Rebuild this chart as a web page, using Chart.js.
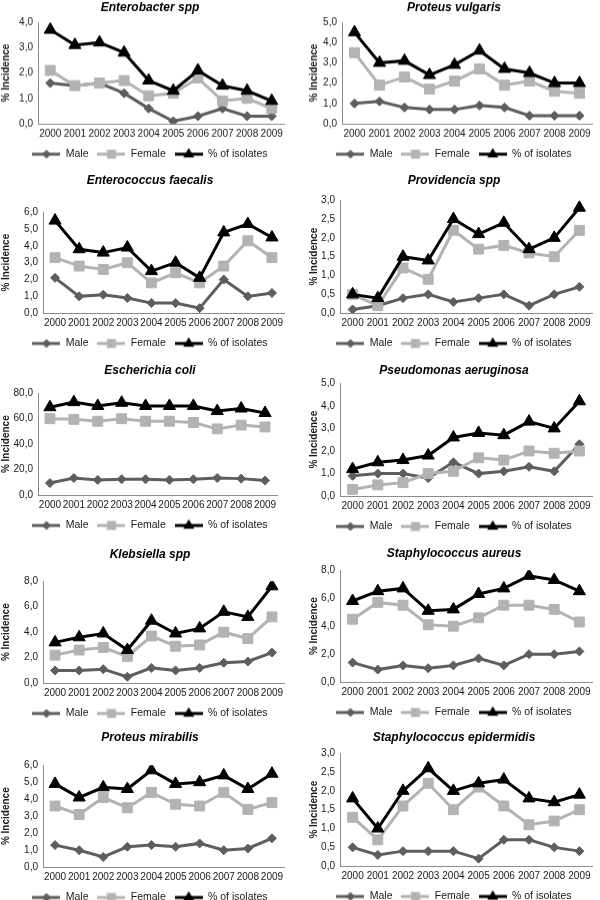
<!DOCTYPE html>
<html>
<head>
<meta charset="utf-8">
<script src="https://cdn.jsdelivr.net/npm/chart.js@4"></script>
<style>
  html, body { margin: 0; padding: 0; background: #fff; overflow: hidden; }
  #wrap { position: relative; width: 600px; height: 900px; }
  .panel { position: absolute; }
</style>
</head>
<body>
<div id="wrap"></div>
<script>
// x axis years
const years = ['2000', '2001', '2002', '2003', '2004', '2005', '2006', '2007', '2008', '2009'];
const seriesNames = ['Male', 'Female', '% of isolates'];

// values (% incidence)
const enterobacterMale     = [1.6, 1.5, 1.6, 1.2, 0.6, 0.1, 0.3, 0.6, 0.3, 0.3];
const enterobacterFemale   = [2.1, 1.5, 1.6, 1.7, 1.1, 1.2, 1.8, 0.9, 1.0, 0.6];
const enterobacterIsolates = [3.7, 3.1, 3.2, 2.8, 1.7, 1.3, 2.1, 1.5, 1.3, 0.9];

const vulgarisMale     = [1.0, 1.1, 0.8, 0.7, 0.7, 0.9, 0.8, 0.4, 0.4, 0.4];
const vulgarisFemale   = [3.5, 1.9, 2.3, 1.7, 2.1, 2.7, 1.9, 2.1, 1.6, 1.5];
const vulgarisIsolates = [4.5, 3.0, 3.1, 2.4, 2.9, 3.6, 2.7, 2.5, 2.0, 2.0];

const faecalisMale     = [2.1, 1.0, 1.1, 0.9, 0.6, 0.6, 0.3, 2.0, 1.0, 1.2];
const faecalisFemale   = [3.3, 2.8, 2.6, 3.0, 1.8, 2.4, 1.8, 2.8, 4.3, 3.3];
const faecalisIsolates = [5.5, 3.8, 3.6, 3.9, 2.5, 3.0, 2.1, 4.8, 5.3, 4.5];

const providenciaMale     = [0.1, 0.2, 0.4, 0.5, 0.3, 0.4, 0.5, 0.2, 0.5, 0.7];
const providenciaFemale   = [0.5, 0.2, 1.2, 0.9, 2.2, 1.7, 1.8, 1.6, 1.5, 2.2];
const providenciaIsolates = [0.5, 0.4, 1.5, 1.4, 2.5, 2.1, 2.4, 1.7, 2.0, 2.8];

const coliMale     = [9.5, 13.5, 12.0, 12.5, 12.5, 12.0, 12.5, 13.5, 13.0, 11.5];
const coliFemale   = [60.0, 59.5, 58.0, 60.0, 58.0, 58.0, 57.0, 52.0, 55.0, 53.5];
const coliIsolates = [69.0, 73.0, 70.0, 72.5, 70.0, 70.0, 70.0, 66.0, 68.0, 64.5];

const pseudomonasMale     = [0.9, 1.0, 1.0, 0.8, 1.5, 1.0, 1.1, 1.3, 1.1, 2.3];
const pseudomonasFemale   = [0.3, 0.5, 0.6, 1.0, 1.1, 1.7, 1.6, 2.0, 1.9, 2.0];
const pseudomonasIsolates = [1.2, 1.5, 1.6, 1.8, 2.6, 2.8, 2.7, 3.3, 3.0, 4.2];

const klebsiellaMale     = [1.0, 1.0, 1.1, 0.5, 1.2, 1.0, 1.2, 1.6, 1.7, 2.4];
const klebsiellaFemale   = [2.2, 2.6, 2.8, 2.1, 3.7, 2.9, 3.0, 4.0, 3.5, 5.2];
const klebsiellaIsolates = [3.2, 3.6, 3.9, 2.6, 4.9, 3.9, 4.3, 5.6, 5.2, 7.6];

const aureusMale     = [1.4, 0.9, 1.2, 1.0, 1.2, 1.7, 1.2, 2.0, 2.0, 2.2];
const aureusFemale   = [4.5, 5.7, 5.5, 4.1, 4.0, 4.6, 5.5, 5.5, 5.2, 4.3];
const aureusIsolates = [5.8, 6.5, 6.7, 5.1, 5.2, 6.3, 6.7, 7.6, 7.3, 6.5];

const mirabilisMale     = [1.3, 1.0, 0.6, 1.2, 1.3, 1.2, 1.4, 1.0, 1.1, 1.7];
const mirabilisFemale   = [3.6, 3.1, 4.1, 3.5, 4.4, 3.7, 3.6, 4.4, 3.4, 3.8];
const mirabilisIsolates = [4.9, 4.1, 4.7, 4.6, 5.7, 4.9, 5.0, 5.4, 4.6, 5.5];

const epidermidisMale     = [0.5, 0.3, 0.4, 0.4, 0.4, 0.2, 0.7, 0.7, 0.5, 0.4];
const epidermidisFemale   = [1.3, 0.7, 1.6, 2.2, 1.5, 2.1, 1.6, 1.1, 1.2, 1.5];
const epidermidisIsolates = [1.8, 1.0, 2.0, 2.6, 2.0, 2.2, 2.3, 1.8, 1.7, 1.9];

// panel layout: x/w = canvas box, titleY = title centre, top/bottom/left/right = plot area
const panels = [
  { title: 'Enterobacter spp', data: [enterobacterMale, enterobacterFemale, enterobacterIsolates], max: 4, step: 1,
    x: 0, w: 300, titleY: 7, top: 22, bottom: 123, left: 38, right: 284 },
  { title: 'Proteus vulgaris', data: [vulgarisMale, vulgarisFemale, vulgarisIsolates], max: 5, step: 1,
    x: 308, w: 292, titleY: 7, top: 22, bottom: 123, left: 342, right: 598 },
  { title: 'Enterococcus faecalis', data: [faecalisMale, faecalisFemale, faecalisIsolates], max: 6, step: 1,
    x: 0, w: 300, titleY: 180, top: 212, bottom: 313, left: 43, right: 284 },
  { title: 'Providencia spp', data: [providenciaMale, providenciaFemale, providenciaIsolates], max: 3, step: 0.5,
    x: 308, w: 292, titleY: 180, top: 200, bottom: 313, left: 340, right: 598 },
  { title: 'Escherichia coli', data: [coliMale, coliFemale, coliIsolates], max: 80, step: 20,
    x: 0, w: 300, titleY: 370, top: 393, bottom: 495, left: 38, right: 277 },
  { title: 'Pseudomonas aeruginosa', data: [pseudomonasMale, pseudomonasFemale, pseudomonasIsolates], max: 5, step: 1,
    x: 308, w: 292, titleY: 370, top: 383, bottom: 496, left: 340, right: 596 },
  { title: 'Klebsiella spp', data: [klebsiellaMale, klebsiellaFemale, klebsiellaIsolates], max: 8, step: 2,
    x: 0, w: 300, titleY: 554, top: 581, bottom: 683, left: 43, right: 284 },
  { title: 'Staphylococcus aureus', data: [aureusMale, aureusFemale, aureusIsolates], max: 8, step: 2,
    x: 308, w: 292, titleY: 553, top: 570, bottom: 682, left: 340, right: 598 },
  { title: 'Proteus mirabilis', data: [mirabilisMale, mirabilisFemale, mirabilisIsolates], max: 6, step: 1,
    x: 0, w: 300, titleY: 737, top: 765, bottom: 867, left: 43, right: 284 },
  { title: 'Staphylococcus epidermidis', data: [epidermidisMale, epidermidisFemale, epidermidisIsolates], max: 3, step: 0.5,
    x: 308, w: 292, titleY: 737, top: 753, bottom: 866, left: 340, right: 598 }
];

// series styles (Male, Female, % of isolates)
const lineColors = ['#5e5e5e', '#b3b3b3', '#000000'];
const markers = ['rectRot', 'rect', 'triangle'];
const markerSizes = [4.5, 7, 7];

const FONT = "'Liberation Sans', Arial, sans-serif";
const TITLE_LH = 14.4;
const XAXIS_H = 16;
const LEGEND_FONT = 10.5;
const LEGEND_PAD = 9;
const LEGEND_H = LEGEND_FONT + LEGEND_PAD + 10;

// legend icon: short line with the marker in the middle (Excel style)
function makeLegendIcon(color, style, radius) {
  const c = document.createElement('canvas');
  c.width = 28;
  c.height = 14;
  const g = c.getContext('2d');
  g.strokeStyle = color;
  g.lineWidth = 3;
  g.beginPath();
  g.moveTo(0, 7);
  g.lineTo(28, 7);
  g.stroke();
  g.fillStyle = color;
  const r = radius * 0.75;
  g.beginPath();
  if (style === 'rectRot') {
    g.moveTo(14 - r, 7); g.lineTo(14, 7 - r); g.lineTo(14 + r, 7); g.lineTo(14, 7 + r);
  } else if (style === 'rect') {
    const s = r * Math.SQRT1_2;
    g.rect(14 - s, 7 - s, 2 * s, 2 * s);
  } else {
    g.moveTo(14, 7 - r);
    g.lineTo(14 + r * 0.866, 7 + r * 0.5);
    g.lineTo(14 - r * 0.866, 7 + r * 0.5);
  }
  g.closePath();
  g.fill();
  return c;
}

const legendIcons = lineColors.map((c, i) => makeLegendIcon(c, markers[i], markerSizes[i] + 1.5));

function fmtComma(v) {
  return v.toFixed(1).replace('.', ',');
}

const wrap = document.getElementById('wrap');

panels.forEach((p) => {
  const canvasTop = Math.max(0, p.titleY - TITLE_LH / 2);
  const height = p.bottom + XAXIS_H + LEGEND_H - canvasTop;
  const rightPad = (p.x + p.w) - p.right;

  const box = document.createElement('div');
  box.className = 'panel';
  box.style.left = p.x + 'px';
  box.style.top = canvasTop + 'px';
  box.style.width = p.w + 'px';
  box.style.height = height + 'px';
  const cv = document.createElement('canvas');
  box.appendChild(cv);
  wrap.appendChild(box);

  const datasets = p.data.map((vals, i) => ({
    label: seriesNames[i],
    data: vals,
    borderColor: lineColors[i],
    backgroundColor: lineColors[i],
    pointBackgroundColor: lineColors[i],
    pointBorderColor: lineColors[i],
    borderWidth: 3,
    pointStyle: markers[i],
    pointRadius: markerSizes[i],
    pointBorderWidth: 1,
    tension: 0,
    order: 3 - i
  }));

  new Chart(cv, {
    type: 'line',
    data: { labels: years, datasets: datasets },
    options: {
      responsive: true,
      maintainAspectRatio: false,
      animation: false,
      layout: { padding: 0 },
      scales: {
        x: {
          offset: true,
          grid: { display: false, drawTicks: false },
          border: { display: true, color: '#8c8c8c', width: 1 },
          ticks: { color: '#1a1a1a', font: { family: FONT, size: 10 }, padding: 4, maxRotation: 0, autoSkip: false },
          afterFit: (s) => { s.height = XAXIS_H; }
        },
        y: {
          min: 0,
          max: p.max,
          grid: { display: false, drawTicks: false },
          border: { display: true, color: '#8c8c8c', width: 1 },
          ticks: {
            stepSize: p.step,
            color: '#1a1a1a',
            font: { family: FONT, size: 10 },
            padding: 5,
            callback: (v) => fmtComma(v)
          },
          title: {
            display: true,
            text: '% Incidence',
            color: '#1a1a1a',
            font: { family: FONT, size: 10, weight: 'bold' },
            padding: { top: 0, bottom: 4 }
          },
          afterFit: (s) => { s.width = p.left - p.x; }
        },
        // empty spacer on the right so title and legend stay centred on the panel
        spacer: {
          type: 'linear',
          position: 'right',
          display: true,
          grid: { display: false, drawTicks: false },
          border: { display: false },
          ticks: { display: false },
          afterFit: (s) => { s.width = rightPad; }
        }
      },
      plugins: {
        title: {
          display: true,
          text: p.title,
          color: '#000',
          font: { family: FONT, size: 12, weight: 'bold', style: 'italic', lineHeight: 1.2 },
          padding: { top: 0, bottom: p.top - canvasTop - TITLE_LH }
        },
        legend: {
          position: 'bottom',
          labels: {
            usePointStyle: true,
            pointStyleWidth: 28,
            padding: LEGEND_PAD,
            color: '#1a1a1a',
            font: { family: FONT, size: LEGEND_FONT },
            generateLabels: (chart) => chart.data.datasets.map((ds, i) => ({
              text: ds.label,
              pointStyle: legendIcons[i],
              datasetIndex: i,
              hidden: false,
              lineWidth: 0,
              fillStyle: 'transparent',
              strokeStyle: 'transparent',
              fontColor: '#1a1a1a'
            }))
          }
        },
        tooltip: { enabled: false }
      }
    }
  });
});
</script>
</body>
</html>
